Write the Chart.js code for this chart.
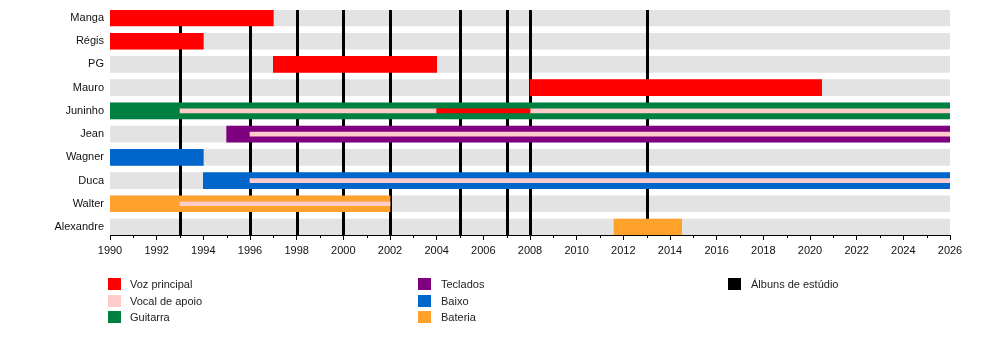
<!DOCTYPE html>
<html>
<head>
<meta charset="utf-8">
<script src="https://cdn.jsdelivr.net/npm/chart.js@4"></script>
<style>
  body { margin: 0; background: #fff; }
  #wrap { position: relative; width: 1000px; height: 345px; }
  .legend { position: absolute; font: 11px "Liberation Sans", Arial, sans-serif; color: #222; }
  .legend span.sw { position: absolute; width: 13px; height: 12px; }
  .legend span.tx { position: absolute; white-space: nowrap; line-height: 14px; }
</style>
</head>
<body>
<div id="wrap">
  <canvas id="timeline"></canvas>
  <div id="legend"></div>
</div>
<script>
const members = ['Manga', 'Régis', 'PG', 'Mauro', 'Juninho', 'Jean', 'Wagner', 'Duca', 'Walter', 'Alexandre'];

// [member, start, end]
const vozPrincipal = [['Manga', 1990, 1997], ['Régis', 1990, 1994], ['PG', 1997, 2004], ['Mauro', 2008, 2020.5]];
const vozPrincipalFina = [['Juninho', 2004, 2008]];
const vocalDeApoio = [['Juninho', 1993, 2004], ['Juninho', 2008, 2026], ['Jean', 1996, 2026], ['Duca', 1996, 2026], ['Walter', 1993, 2002]];
const guitarra = [['Juninho', 1990, 2026]];
const teclados = [['Jean', 1995, 2026]];
const baixo = [['Wagner', 1990, 1994], ['Duca', 1994, 2026]];
const bateria = [['Walter', 1990, 2002], ['Alexandre', 2011.6, 2014.5]];

const albuns = [1993, 1996, 1998, 2000, 2002, 2005, 2007, 2008, 2013];

const startYear = 1990;
const endYear = 2026;

const colors = {
  voz: '#ff0000',
  apoio: '#ffcccc',
  guitarra: '#008040',
  teclados: '#7f007f',
  baixo: '#0066cc',
  bateria: '#ffa12a',
  albuns: '#000000',
  faixa: '#e3e3e3'
};

const legendItems = [
  ['Voz principal', colors.voz], ['Vocal de apoio', colors.apoio], ['Guitarra', colors.guitarra],
  ['Teclados', colors.teclados], ['Baixo', colors.baixo], ['Bateria', colors.bateria],
  ['Álbuns de estúdio', colors.albuns]
];

const FONT = '"Liberation Sans", Arial, sans-serif';

function spans(list) {
  return list.map(s => ({ x: [s[1], s[2]], y: members.indexOf(s[0]) }));
}

function bars(id, list, color, thickness, order) {
  return {
    id: id,
    data: spans(list),
    backgroundColor: color,
    barThickness: thickness,
    grouped: false,
    borderWidth: 0,
    borderSkipped: false,
    order: order
  };
}

// vertical album lines under the member bars, plus minor year ticks
const albumLines = {
  id: 'albumLines',
  afterDatasetDraw(chart, args) {
    if (chart.data.datasets[args.index].id !== 'faixas') return;
    const { ctx, chartArea, scales: { x } } = chart;
    ctx.save();
    ctx.strokeStyle = colors.albuns;
    ctx.lineWidth = 3;
    albuns.forEach(a => {
      const px = Math.round(x.getPixelForValue(a)) + 0.5;
      ctx.beginPath();
      ctx.moveTo(px, chartArea.top);
      ctx.lineTo(px, chartArea.bottom);
      ctx.stroke();
    });
    ctx.restore();
  },
  afterDraw(chart) {
    const { ctx, chartArea, scales: { x } } = chart;
    ctx.save();
    ctx.strokeStyle = '#000';
    ctx.lineWidth = 1;
    for (let y = startYear + 1; y < endYear; y += 2) {
      const px = Math.round(x.getPixelForValue(y)) + 0.5;
      ctx.beginPath();
      ctx.moveTo(px, chartArea.bottom);
      ctx.lineTo(px, chartArea.bottom + 3);
      ctx.stroke();
    }
    ctx.restore();
  }
};

const datasets = [
  bars('vozFina', vozPrincipalFina, colors.voz, 4, 1),
  bars('apoio', vocalDeApoio, colors.apoio, 4, 1),
  bars('voz', vozPrincipal, colors.voz, 16, 2),
  bars('guitarra', guitarra, colors.guitarra, 16, 2),
  bars('teclados', teclados, colors.teclados, 16, 2),
  bars('baixo', baixo, colors.baixo, 16, 2),
  bars('bateria', bateria, colors.bateria, 16, 2),
  bars('faixas', members.map(m => [m, startYear, endYear]), colors.faixa, 16, 3)
];

new Chart(document.getElementById('timeline'), {
  type: 'bar',
  data: { datasets: datasets },
  plugins: [albumLines],
  options: {
    indexAxis: 'y',
    responsive: true,
    maintainAspectRatio: false,
    animation: false,
    layout: { padding: { top: 10, right: 50, left: 0, bottom: 0 } },
    plugins: { legend: { display: false }, tooltip: { enabled: false } },
    scales: {
      x: {
        type: 'linear',
        position: 'bottom',
        min: startYear,
        max: endYear,
        grid: { drawOnChartArea: false, drawTicks: true, tickLength: 5, color: '#000' },
        border: { display: true, color: '#000', width: 1 },
        ticks: {
          stepSize: 2,
          padding: 4,
          maxRotation: 0,
          autoSkip: false,
          color: '#111',
          font: { family: FONT, size: 11 },
          callback: v => String(v)
        },
        afterFit: s => { s.height = 110; s.paddingLeft = 0; s.paddingRight = 0; }
      },
      y: {
        type: 'linear',
        reverse: true,
        offset: false,
        min: -0.345,
        max: members.length - 1 + 0.345,
        grid: { display: false, drawTicks: false },
        border: { display: false },
        ticks: {
          stepSize: 1,
          includeBounds: false,
          autoSkip: false,
          padding: 6,
          color: '#111',
          font: { family: FONT, size: 11 },
          callback: v => Number.isInteger(v) ? members[v] : ''
        },
        afterFit: s => { s.width = 110; s.paddingTop = 0; s.paddingBottom = 0; }
      }
    }
  }
});

// legend in three columns
const legendCols = [108, 418, 728];
const legendRows = [278, 295, 311];
const legend = document.getElementById('legend');
legendItems.forEach((item, i) => {
  const col = Math.floor(i / 3);
  const row = i % 3;
  const d = document.createElement('div');
  d.className = 'legend';
  d.style.left = legendCols[col] + 'px';
  d.style.top = legendRows[row] + 'px';
  d.innerHTML = `<span class="sw" style="left:0;top:0;background:${item[1]}"></span>` +
    `<span class="tx" style="left:${col === 0 ? 22 : 23}px;top:-1px">${item[0]}</span>`;
  legend.appendChild(d);
});
</script>
</body>
</html>
